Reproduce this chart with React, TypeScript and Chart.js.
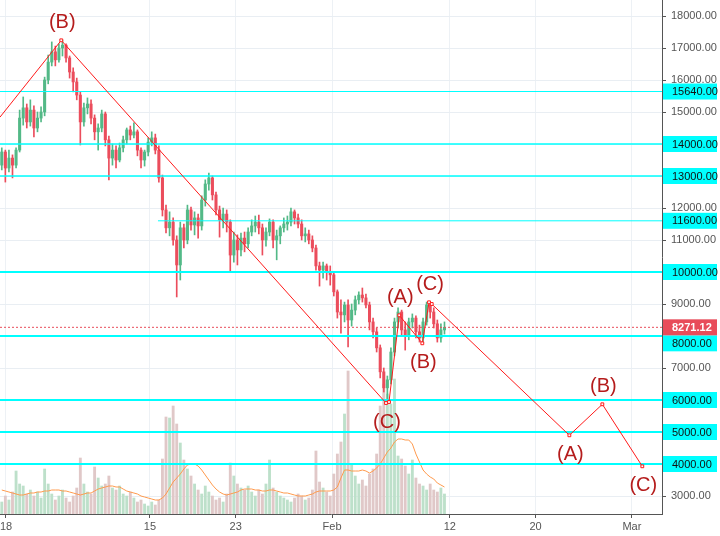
import React, { useEffect, useRef } from 'react';
import { Chart, registerables } from 'chart.js';

Chart.register(...registerables);

// ---- Data (8h candles, BTC/USD, from 1 Jan 2018) ----
const candleOpen = [
  13340, 13750, 13250, 13560, 13340,
  13810, 14810, 15130, 14690, 15060,
  14500, 14810, 15000, 16000, 16560,
  16880, 16630, 17000, 17090, 16690,
  16250, 15940, 15530, 14690, 15130,
  15250, 14810, 14380, 14500, 14940,
  14130, 13560, 13810, 13500, 13880,
  14130, 14440, 14280, 14380, 13810,
  13500, 13750, 14060, 14190, 13810,
  12940, 11940, 11380, 11560, 11000,
  10220, 11380, 11000, 11940, 11470,
  11690, 11440, 12250, 12750, 12940,
  12410, 11940, 11630, 11810, 11560,
  10530, 11000, 10690, 11060, 10880,
  11250, 11440, 11560, 11380, 11000,
  11250, 11560, 11000, 11130, 11380,
  11500, 11560, 11880, 11690, 11500,
  11130, 11190, 11000, 10750, 10190,
  10060, 10190, 10000, 9910, 9380,
  8750, 8660, 8970, 8500, 8810,
  9130, 9280, 9190, 8970, 8440,
  8130, 7630, 6880, 6380, 6630,
  7500, 8440, 8750, 8190, 8000,
  8440, 8560, 8130, 7940, 8440,
  8970, 8750, 8380, 7940, 8190,
];
const candleHigh = [
  13880, 13810, 13810, 13660, 13880,
  15060, 15470, 15250, 15380, 15190,
  15000, 15160, 16090, 16780, 17190,
  17060, 17130, 17250, 17130, 16750,
  16380, 16060, 15630, 15280, 15440,
  15380, 14910, 14630, 15060, 15000,
  14250, 14000, 13940, 14030, 14250,
  14500, 14560, 14660, 14440, 13880,
  13810, 14190, 14380, 14310, 13940,
  13030, 12090, 11880, 11690, 11130,
  11560, 11500, 12090, 12030, 11880,
  11810, 12380, 12880, 13090, 13000,
  12500, 12060, 12000, 11940, 11630,
  11250, 11160, 11220, 11250, 11380,
  11630, 11750, 11780, 11500, 11380,
  11660, 11630, 11310, 11440, 11690,
  11750, 12000, 11940, 11810, 11630,
  11380, 11310, 11130, 10840, 10310,
  10310, 10250, 10190, 10000, 9440,
  9130, 9060, 9130, 9000, 9250,
  9380, 9500, 9310, 9060, 8560,
  8250, 7720, 7000, 6750, 7630,
  8560, 8880, 8810, 8440, 8560,
  8690, 8630, 8340, 8560, 9060,
  9060, 8880, 8500, 8380, 8440,
];
const candleLow = [
  13190, 12810, 13130, 12940, 13250,
  13750, 14590, 14500, 14560, 14220,
  14380, 14690, 14880, 15880, 16440,
  16440, 16560, 16750, 16560, 16060,
  15630, 15380, 13970, 14560, 14940,
  14630, 14130, 13810, 14380, 13940,
  12880, 13340, 13250, 13440, 13750,
  14000, 14130, 14190, 13630, 13250,
  13310, 13630, 13940, 13690, 12810,
  11750, 11220, 11130, 10840, 9220,
  9750, 10750, 10880, 11310, 11160,
  11060, 11310, 12060, 12560, 12250,
  11780, 11090, 11380, 11250, 10000,
  10310, 10220, 10500, 10630, 10750,
  11130, 11250, 11190, 10530, 10810,
  11130, 10750, 10380, 10880, 11250,
  11310, 11440, 11500, 11380, 11000,
  10940, 10880, 10630, 10060, 9560,
  9810, 9750, 9590, 9250, 8560,
  8090, 8440, 7660, 8310, 8660,
  9000, 9060, 8880, 8190, 7940,
  7500, 6690, 6250, 5940, 6500,
  7380, 8250, 8000, 7560, 7880,
  8250, 7940, 7810, 7810, 8340,
  8560, 8250, 7810, 7810, 8060,
];
const candleClose = [
  13750, 13250, 13560, 13340, 13810,
  14810, 15130, 14690, 15060, 14500,
  14810, 15000, 16000, 16560, 16880,
  16630, 17000, 17090, 16690, 16250,
  15940, 15530, 14690, 15130, 15250,
  14810, 14380, 14500, 14940, 14130,
  13560, 13810, 13500, 13880, 14130,
  14440, 14280, 14380, 13810, 13500,
  13750, 14060, 14190, 13810, 12940,
  11940, 11380, 11560, 11000, 10220,
  11380, 11000, 11940, 11470, 11690,
  11440, 12250, 12750, 12940, 12410,
  11940, 11630, 11810, 11560, 10530,
  11000, 10690, 11060, 10880, 11250,
  11440, 11560, 11380, 11000, 11250,
  11560, 11000, 11130, 11380, 11500,
  11560, 11880, 11690, 11500, 11130,
  11190, 11000, 10750, 10190, 10060,
  10190, 10000, 9910, 9380, 8750,
  8660, 8970, 8500, 8810, 9130,
  9280, 9190, 8970, 8440, 8130,
  7630, 6880, 6380, 6630, 7500,
  8440, 8750, 8190, 8000, 8440,
  8560, 8130, 7940, 8440, 8970,
  8750, 8380, 7940, 8190, 8271.12,
];
const volumes = [
  12, 18, 14, 22, 43,
  30, 28, 20, 24, 18,
  22, 16, 45, 30, 20,
  14, 18, 24, 16, 12,
  18, 26, 56, 30, 22,
  20, 47, 36, 28, 30,
  38, 26, 24, 28, 20,
  18, 22, 16, 12, 14,
  10, 8, 12, 9, 14,
  55, 97, 96, 108, 90,
  71, 54, 45, 38, 30,
  24, 20, 28, 22, 18,
  14, 16, 12, 20, 51,
  38, 30, 26, 24, 28,
  22, 18, 24, 20, 30,
  54, 26, 22, 18, 16,
  14, 12, 16, 20, 18,
  14, 16, 24, 63, 32,
  26, 22, 18, 40, 60,
  72, 100, 143, 50, 38,
  30, 34, 28, 40, 45,
  60, 108, 130, 120, 110,
  135, 58, 55, 48, 40,
  54, 36, 30, 28, 24,
  30, 24, 22, 26, 20,
];
const volumeMA = [
  24, 23, 22, 21, 20,
  19, 19, 20, 21, 21,
  22, 22, 23, 23, 24,
  24, 24, 23, 23, 22,
  21, 20, 19, 20, 21,
  21, 23, 25, 26, 27,
  28, 28, 27, 27, 25,
  23, 22, 21, 20, 18,
  17, 16, 15, 14, 14,
  16, 20, 26, 32, 36,
  40, 45, 49, 50, 50,
  48, 44, 39, 34, 29,
  25, 22, 20, 19, 20,
  21, 22, 24, 25, 25,
  25, 24, 24, 23, 23,
  24, 24, 23, 22, 21,
  21, 20, 19, 18, 18,
  18, 19, 20, 22, 23,
  23, 23, 23, 24, 27,
  36, 44, 44, 43, 43,
  43, 44, 43, 41, 43,
  46, 50, 56, 62, 66,
  72, 75, 75, 74, 74,
  70, 60, 52, 44, 40,
  37, 35, 31, 29, 27,
];
const CANDLE_DAYS = 1 / 3; // 8-hour candles
const candleDays = candleClose.map((_, i) => i * CANDLE_DAYS + CANDLE_DAYS / 2);

// x axis: days since 1 Jan 2018
const xTickDays = [0.56, 14, 22, 31, 42, 50, 59];
const xTickLabels = ['18', '15', '23', 'Feb', '12', '20', 'Mar'];
const X_MIN = 0;
const X_MAX = 61.81;

// price axis
const priceTicks = [3000, 4000, 5000, 6000, 7000, 8000, 9000, 10000, 11000, 12000, 13000, 14000, 15000, 16000, 17000, 18000];
const Y_MIN = 2437.5;
const Y_MAX = 18500;
const VOL_MAX = 514;

// horizontal levels
const levels = [15640, 14000, 13000, 11600, 10000, 8000, 6000, 5000, 4000];
const levelStartDays = [0, 0, 0, 14.75, 0, 0, 0, 0, 0];
const lastPrice = 8271.12;

// wave drawing
const waveDays = [0, 5.72, 36.04, 36.32, 37.28, 39.43, 40.06, 40.31, 53.16, 56.24, 59.97];
const wavePrices = [14840, 17240, 5906, 5937, 8647, 7772, 9053, 9000, 4897, 5866, 3928];
const waveLabels = ['', '(B)', '(C)', '', '(A)', '(B)', '(C)', '', '(A)', '(B)', '(C)'];
const waveLabelAbove = [false, true, false, false, true, false, true, false, false, true, false];

// ---- styles ----
const UP = '#53b987';
const DOWN = '#eb4d5c';
const VOL_UP = '#bde0ca';
const VOL_DOWN = '#e0c8c8';
const CYAN = '#00ffff';
const FONT = '"Liberation Sans", Arial, sans-serif';
const levelWidth = (lv: number) => (lv === 15640 || lv === 11600 ? 1 : lv === 14000 || lv === 13000 ? 1.5 : 2);

const isUp = (i: number) => candleClose[i] >= candleOpen[i];

const overlayPlugin = {
  id: 'overlay',
  afterDraw(chart: any) {
    const { ctx, chartArea } = chart;
    const x = chart.scales.x;
    const y = chart.scales.y;
    ctx.save();
    ctx.font = `20px ${FONT}`;
    ctx.fillStyle = '#b51c1c';
    ctx.textAlign = 'center';
    ctx.textBaseline = 'middle';
    waveLabels.forEach((t, i) => {
      if (!t) return;
      const px = x.getPixelForValue(waveDays[i]);
      const py = y.getPixelForValue(wavePrices[i]) + (waveLabelAbove[i] ? -18 : 19);
      ctx.fillText(t, px + 1, py);
    });
    const boxL = chartArea.right + 1;
    const boxW = 54;
    const boxH = 16;
    const textX = chartArea.right + 10;
    const redC = y.getPixelForValue(lastPrice);
    ctx.font = `11px ${FONT}`;
    ctx.textAlign = 'left';
    levels.forEach((lv) => {
      let c = y.getPixelForValue(lv);
      if (Math.abs(c - redC) < boxH) c = c > redC ? redC + boxH : redC - boxH;
      ctx.fillStyle = CYAN;
      ctx.fillRect(boxL, c - boxH / 2, boxW, boxH);
      ctx.fillStyle = '#111';
      ctx.fillText(lv.toFixed(2), textX, c + 0.5);
    });
    ctx.fillStyle = '#e84c5a';
    ctx.fillRect(boxL, redC - boxH / 2, boxW, boxH);
    ctx.fillStyle = '#ffffff';
    ctx.font = `bold 11px ${FONT}`;
    ctx.fillText(lastPrice.toFixed(2), textX, redC + 0.5);
    ctx.restore();
  },
};

export default function App() {
  const ref = useRef<HTMLCanvasElement>(null);
  useEffect(() => {
    document.body.style.margin = '0';
    const levelSets = levels.map((lv, k) => ({
      type: 'line' as const,
      data: [{ x: levelStartDays[k], y: lv }, { x: X_MAX, y: lv }],
      borderColor: CYAN,
      borderWidth: levelWidth(lv),
      pointRadius: 0,
      fill: false,
      yAxisID: 'y',
      order: 3,
    }));
    const chart = new Chart(ref.current!, {
      type: 'bar',
      data: {
        datasets: [
          {
            type: 'line',
            data: waveDays.map((d, i) => ({ x: d, y: wavePrices[i] })),
            borderColor: '#ff1a1a',
            borderWidth: 1,
            pointStyle: 'rect',
            pointRadius: waveDays.map((_, i) => (i === 0 ? 0 : 2)),
            pointBackgroundColor: '#ffffff',
            pointBorderColor: '#ff1a1a',
            pointBorderWidth: 1,
            fill: false,
            tension: 0,
            yAxisID: 'y',
            order: 1,
          } as any,
          {
            type: 'line',
            data: [{ x: X_MIN, y: lastPrice }, { x: X_MAX, y: lastPrice }],
            borderColor: '#e84c5a',
            borderWidth: 1,
            borderDash: [2, 2],
            pointRadius: 0,
            fill: false,
            yAxisID: 'y',
            order: 2,
          } as any,
          ...levelSets,
          {
            type: 'bar',
            data: candleDays.map((d, i) => ({ x: d, y: [candleOpen[i], candleClose[i]] })),
            backgroundColor: candleDays.map((_, i) => (isUp(i) ? UP : DOWN)),
            barThickness: 2.4,
            grouped: false,
            minBarLength: 1,
            borderWidth: 0,
            yAxisID: 'y',
            order: 4,
          } as any,
          {
            type: 'bar',
            data: candleDays.map((d, i) => ({ x: d, y: [candleLow[i], candleHigh[i]] })),
            backgroundColor: candleDays.map((_, i) => (isUp(i) ? UP : DOWN)),
            barThickness: 1,
            grouped: false,
            borderWidth: 0,
            yAxisID: 'y',
            order: 5,
          } as any,
          {
            type: 'line',
            data: candleDays.map((d, i) => ({ x: d, y: volumeMA[i] })),
            borderColor: '#ff9a4d',
            borderWidth: 1,
            pointRadius: 0,
            fill: false,
            tension: 0,
            yAxisID: 'yv',
            order: 6,
          } as any,
          {
            type: 'bar',
            data: candleDays.map((d, i) => ({ x: d, y: volumes[i] })),
            backgroundColor: candleDays.map((_, i) => (isUp(i) ? VOL_UP : VOL_DOWN)),
            barThickness: 2.2,
            grouped: false,
            borderWidth: 0,
            yAxisID: 'yv',
            order: 7,
          } as any,
        ],
      },
      options: {
        responsive: false,
        maintainAspectRatio: false,
        animation: false,
        events: [],
        layout: { padding: 0, autoPadding: false },
        plugins: { legend: { display: false }, tooltip: { enabled: false } },
        scales: {
          x: {
            type: 'linear',
            min: X_MIN,
            max: X_MAX,
            offset: false,
            afterBuildTicks: (s: any) => {
              s.ticks = xTickDays.map((v) => ({ value: v }));
            },
            afterFit: (s: any) => {
              s.height = 22;
              s.paddingLeft = 0;
              s.paddingRight = 0;
            },
            ticks: {
              autoSkip: false,
              maxRotation: 0,
              padding: 2,
              color: '#555',
              font: { family: FONT, size: 11 },
              callback: (v: any) => {
                const k = xTickDays.indexOf(Number(v));
                return k >= 0 ? xTickLabels[k] : '';
              },
            },
            grid: { color: '#edf1f5', tickLength: 4, tickColor: '#555', offset: false },
            border: { color: '#555', width: 1 },
          },
          y: {
            type: 'linear',
            position: 'right',
            min: Y_MIN,
            max: Y_MAX,
            afterBuildTicks: (s: any) => {
              s.ticks = priceTicks.map((v) => ({ value: v }));
            },
            afterFit: (s: any) => {
              s.width = 58;
              s.paddingTop = 0;
              s.paddingBottom = 0;
            },
            ticks: {
              padding: 5,
              color: '#555',
              font: { family: FONT, size: 11 },
              callback: (v: any) => (levels.includes(Number(v)) ? '' : Number(v).toFixed(2)),
            },
            grid: { color: '#e9eef3', tickLength: 4, tickColor: '#555' },
            border: { color: '#555', width: 1 },
          },
          yv: {
            type: 'linear',
            display: false,
            min: 0,
            max: VOL_MAX,
          },
        },
      } as any,
      plugins: [overlayPlugin],
    });
    return () => chart.destroy();
  }, []);
  return (
    <div style={{ width: 720, height: 536, background: '#fff' }}>
      <canvas ref={ref} width={720} height={536} style={{ display: 'block' }} />
    </div>
  );
}
